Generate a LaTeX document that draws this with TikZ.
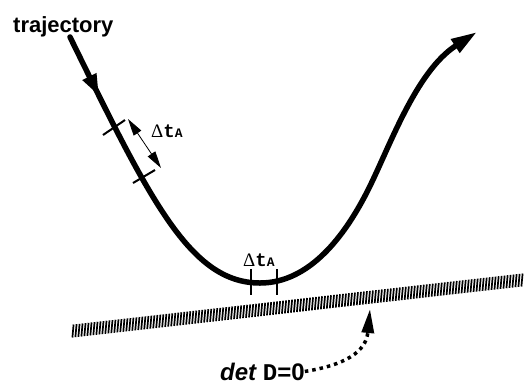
\documentclass[tikz,border=0pt]{standalone}
\usepackage{fontspec}
\setmainfont{Liberation Sans}
\setmonofont{Liberation Mono}
\newfontfamily\deltafont{Liberation Serif}
\usetikzlibrary{arrows.meta,positioning,calc,decorations.markings}
\newcommand\dtA{{\fontsize{19}{19}\selectfont{\deltafont Δ}\ttfamily\bfseries t\fontsize{13}{13}\selectfont A}}

\begin{document}
\begin{tikzpicture}[x=1pt,y=-1pt,>=Triangle,
  path/.style={line width=5.5pt,line cap=round},
  tick/.style={line width=2pt},
  lbl/.style={inner sep=0pt,anchor=base west}]
  \useasboundingbox (0,0) rectangle (529,384);
  % labels
  \node[lbl,font=\fontsize{22}{22}\selectfont\bfseries] (traj) at (13,32) {trajectory};
  \node[lbl] (dt1) at (151,137) {\dtA};
  \node[lbl] (dt2) at (243,266) {\dtA};
  \node[lbl,font=\fontsize{24}{24}\selectfont\bfseries] (cond) at (220,380)
    {\itshape det {\upshape\ttfamily D}\upshape=0};
  % trajectory curve
  \coordinate (s) at (70,37);
  \coordinate (low) at (260,283);
  \coordinate (turn) at (367,192);
  \coordinate (e) at (477,32);
  \draw[path,-{Triangle[length=26pt,width=15pt]},
    postaction={decorate,decoration={markings,
      mark=at position 66pt with {\arrow{Triangle[length=22pt,width=14pt]}}}}]
    (s) .. controls (150,200) and (190,283) .. (low)
    .. controls (310,283) and (345,235) .. (turn)
    .. controls (389,149) and (415,72) .. (e);
  % ticks on the curve
  \draw[tick] (103,135) -- (125,120);
  \draw[tick] (133,183) -- (155,170);
  \draw[tick] (251,269) -- (251,295);
  \draw[tick] (277,269) -- (277,295);
  % interval arrow
  \coordinate (a1) at (128,119);
  \coordinate (a2) at (161,168);
  \draw[line width=0.8pt,{Triangle[length=17pt,width=9pt]}-{Triangle[length=17pt,width=9pt]}] (a1) -- (a2);
  % hatched wall
  \coordinate (w1) at (73,331);
  \coordinate (w2) at (522,280);
  \foreach \i in {0,...,150}
    \draw[line width=1.7pt] ($(w1)!\i/150!(w2)+(-0.6,6.5)$) -- ++(1.2,-13);
  % pointer to the wall
  \draw[line width=3.5pt,dash pattern=on 3.5pt off 4pt,-{Triangle[length=24pt,width=12pt]}]
    (cond.east) .. controls (345,365) and (366,352) .. (370,309);
\end{tikzpicture}
\end{document}
